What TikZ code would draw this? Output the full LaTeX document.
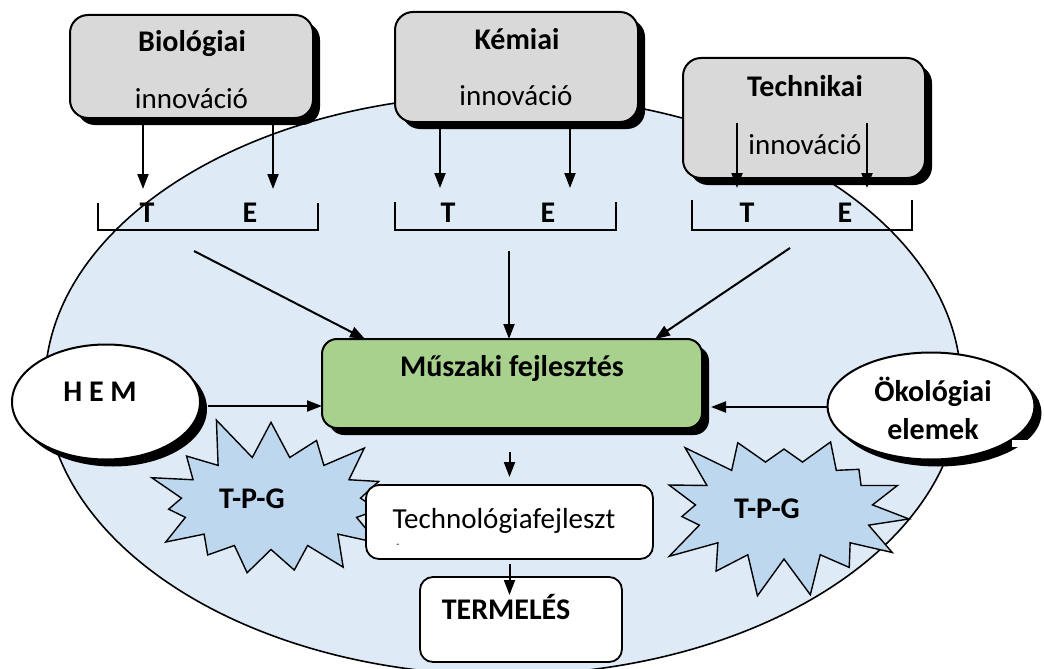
\documentclass[tikz,border=0pt]{standalone}
\usepackage{fontspec}
\setmainfont{Carlito}
\usetikzlibrary{arrows.meta,shapes.geometric,shapes.symbols,shadows}
\definecolor{bigfill}{HTML}{DEEAF6}
\definecolor{greyfill}{HTML}{D9D9D9}
\definecolor{greenfill}{HTML}{A9D18E}
\definecolor{starfill}{HTML}{BDD7EE}
\begin{document}
\begin{tikzpicture}[x=1pt,y=-1pt,
  txt/.style={font=\fontsize{29}{31}\selectfont, inner sep=0pt, anchor=base},
  btxt/.style={font=\fontsize{30}{32}\selectfont\bfseries, inner sep=0pt, anchor=base},
  blk/.style={drop shadow={shadow xshift=7pt, shadow yshift=-7pt, fill=black, opacity=1}},
  gbox/.style={draw, line width=2pt, fill=greyfill, rounded corners=18pt, inner sep=0pt, outer sep=0pt, blk},
  wbox/.style={draw, line width=1.8pt, fill=white, rounded corners=13pt, inner sep=0pt, outer sep=0pt},
  oval/.style={draw, ellipse, line width=2pt, fill=white, inner sep=0pt, outer sep=0pt, blk},
  brnode/.style={inner sep=0pt, outer sep=0pt},
  brk/.style={line width=1.8pt},
  arr/.style={line width=2pt, -{Triangle[length=15pt,width=11pt]}},
  burst/.style={starburst, draw, fill=starfill, line width=1.4pt, inner sep=0pt, starburst points=15, starburst point height=46pt},
]
\useasboundingbox (0,0) rectangle (1044,669);
% big ellipse
\node[draw, ellipse, line width=1.6pt, fill=bigfill, minimum width=916pt, minimum height=580pt, inner sep=0pt] (big) at (503,385) {};

% innovation boxes
\node[gbox, minimum width=243pt, minimum height=103pt] (bio) at (191.5,66.5) {};
\node[btxt] (bioA) at (192,52) {Biológiai};
\node[txt] (bioB) at (191.5,108) {innováció};

\node[gbox, minimum width=243pt, minimum height=110pt] (kem) at (516.5,67) {};
\node[btxt] (kemA) at (517,49) {Kémiai};
\node[txt] (kemB) at (516,106) {innováció};

\node[gbox, minimum width=242pt, minimum height=120pt] (tec) at (804,118) {};
\node[btxt] (tecA) at (805,96) {Technikai};
\node[txt] (tecB) at (805,154) {innováció};

% brackets
\node[brnode, minimum width=220pt, minimum height=27pt] (bB) at (208,216.5) {};
\node[brnode, minimum width=221pt, minimum height=28pt] (kB) at (505.5,216) {};
\node[brnode, minimum width=220pt, minimum height=30pt] (tB) at (802,215) {};
\draw[brk] (bB.north west) -- (bB.south west) -- (bB.south east) -- (bB.north east);
\draw[brk] (kB.north west) -- (kB.south west) -- (kB.south east) -- (kB.north east);
\draw[brk] (tB.north west) -- (tB.south west) -- (tB.south east) -- (tB.north east);
\node[btxt] (bT) at (147,222) {T};
\node[btxt] (bE) at (250,222) {E};
\node[btxt] (kT) at (448,222) {T};
\node[btxt] (kE) at (548,222) {E};
\node[btxt] (tT) at (747,222) {T};
\node[btxt] (tE) at (845,222) {E};

% arrows from boxes to T / E
\coordinate (bTa) at (143,189);
\coordinate (bEa) at (273,189);
\coordinate (kTa) at (440,188);
\coordinate (kEa) at (570,188);
\coordinate (tTs) at (737,123);
\coordinate (tTa) at (737,188);
\coordinate (tEs) at (867,123);
\coordinate (tEa) at (867,188);
\draw[arr] (bio.south -| bTa) -- (bTa);
\draw[arr] (bio.south -| bEa) -- (bEa);
\draw[arr] (kem.south -| kTa) -- (kTa);
\draw[arr] (kem.south -| kEa) -- (kEa);
\draw[arr] (tTs) -- (tTa);
\draw[arr] (tEs) -- (tEa);

% central box
\node[draw, line width=2pt, fill=greenfill, rounded corners=15pt, inner sep=0pt, outer sep=0pt, blk, minimum width=380pt, minimum height=89pt] (gr) at (512,383.5) {};
\node[btxt] (grT) at (512,376) {Műszaki fejlesztés};

% arrows into central box
\coordinate (s1) at (194,251);
\coordinate (e1) at (365,339);
\coordinate (s2) at (509,251);
\coordinate (s3) at (790,248);
\coordinate (e3) at (655,339);
\draw[arr] (s1) -- (e1 |- gr.north);
\draw[arr] (s2) -- (s2 |- gr.north);
\draw[arr] (s3) -- (e3 |- gr.north);

% side ellipses
\node[oval, minimum width=188pt, minimum height=115pt] (hem) at (106,402) {};
\node[btxt] (hemT) at (100,401) {H E M};
\node[oval, minimum width=207pt, minimum height=107pt] (ok) at (931,406) {};
\node[btxt] (okA) at (933,401) {Ökológiai};
\node[btxt] (okB) at (933,439) {elemek};
\fill[white] (1012,440) rectangle (1044,447);

\draw[arr] ([xshift=8pt,yshift=-4pt]hem.east) -- ([yshift=-4pt]hem.east -| gr.west);
\draw[arr] ([yshift=-1pt]ok.west) -- ([xshift=9pt,yshift=-1pt]ok.west -| gr.east);

% starbursts
\node[burst, minimum width=272pt, minimum height=185pt, random starburst=11] (st1) at (271,503) {};
\node[btxt] (st1T) at (252,508) {T-P-G};
\node[burst, minimum width=270pt, minimum height=190pt, random starburst=23] (st2) at (784,510) {};
\node[btxt] (st2T) at (767,518) {T-P-G};

% lower boxes
\node[wbox, minimum width=287pt, minimum height=74pt] (tb) at (509.5,522) {};
\node[txt] (tbT) at (504,528) {Technológiafejleszt};
\node[font=\fontsize{10}{10}\selectfont, inner sep=0pt] (tbD) at (398,546) {-};
\node[wbox, minimum width=202pt, minimum height=85pt] (term) at (521,619.5) {};
\node[btxt] (termT) at (506,619) {TERMELÉS};

\draw[arr, shorten <=24pt, shorten >=8pt] (gr.south -| tb.north) -- (tb.north);
\draw[arr, shorten <=5pt, shorten >=-18pt] (tb.south) -- (term.north -| tb.south);
\end{tikzpicture}
\end{document}
